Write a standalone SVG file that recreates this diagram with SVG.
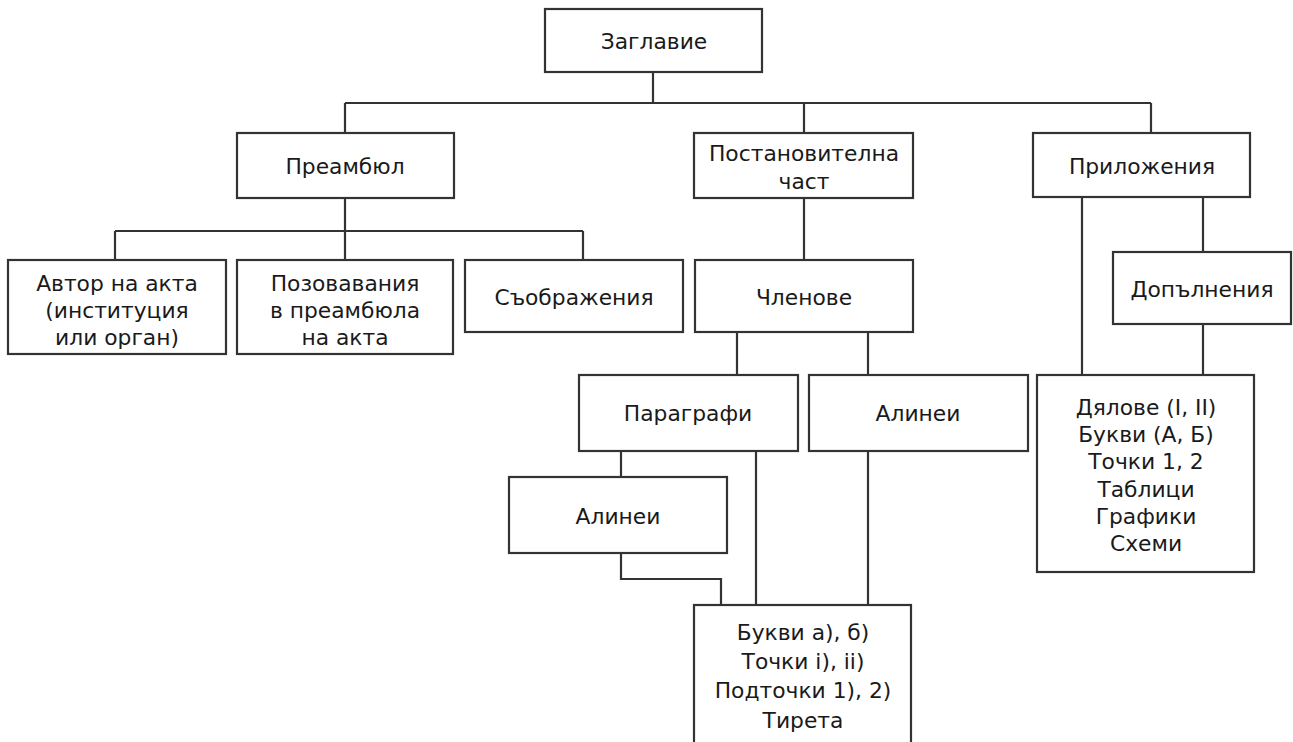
<svg xmlns="http://www.w3.org/2000/svg" width="1293" height="742" viewBox="0 0 1293 742">
<style>
.box{fill:#fff;stroke:#333;stroke-width:2.2}
.ln{fill:none;stroke:#333;stroke-width:2.2}
text{font-family:"DejaVu Sans","Liberation Sans",sans-serif;font-size:21.8px;fill:#1a1a1a;text-anchor:middle;dominant-baseline:central}
</style>
<rect width="1293" height="742" fill="#fff"/>
<g id="connectors">
<path class="ln" d="M653 72V103M345 103H1151M345 103V133M804 103V133M1151 103V133"/>
<path class="ln" d="M345 198V231M115 231H583M115 231V260M345 231V260M583 231V260"/>
<path class="ln" d="M804 198V260"/>
<path class="ln" d="M737 332V375M868 332V375"/>
<path class="ln" d="M1082 197V375M1203 197V252M1203 324V375"/>
<path class="ln" d="M621 451V477M621 553V579H721V605M756 451V605M868 451V605"/>
</g>
<g id="n-zaglavie"><rect class="box" x="545" y="9" width="217" height="63"/><text x="654" y="41">Заглавие</text></g>
<g id="n-preambyul"><rect class="box" x="237" y="133" width="217" height="65"/><text x="345" y="166">Преамбюл</text></g>
<g id="n-postanovitelna"><rect class="box" x="694" y="133" width="219" height="65"/><text x="804" y="153">Постановителна</text><text x="804" y="181">част</text></g>
<g id="n-prilozhenia"><rect class="box" x="1033" y="133" width="217" height="64"/><text x="1142" y="166">Приложения</text></g>
<g id="n-avtor"><rect class="box" x="8" y="260" width="218" height="94"/><text x="117" y="283">Автор на акта</text><text x="117" y="310">(институция</text><text x="117" y="337">или орган)</text></g>
<g id="n-pozovavania"><rect class="box" x="237" y="260" width="216" height="94"/><text x="345" y="283">Позовавания</text><text x="345" y="310">в преамбюла</text><text x="345" y="337">на акта</text></g>
<g id="n-sobrazhenia"><rect class="box" x="465" y="260" width="218" height="72"/><text x="574" y="297">Съображения</text></g>
<g id="n-chlenove"><rect class="box" x="695" y="260" width="218" height="72"/><text x="804" y="297">Членове</text></g>
<g id="n-dopalnenia"><rect class="box" x="1113" y="252" width="178" height="72"/><text x="1202" y="289">Допълнения</text></g>
<g id="n-paragrafi"><rect class="box" x="579" y="375" width="219" height="76"/><text x="688" y="413">Параграфи</text></g>
<g id="n-alinei1"><rect class="box" x="809" y="375" width="219" height="76"/><text x="918" y="413">Алинеи</text></g>
<g id="n-dyalove"><rect class="box" x="1037" y="375" width="217" height="197"/><text x="1146" y="407">Дялове (I, II)</text><text x="1146" y="434">Букви (А, Б)</text><text x="1146" y="461">Точки 1, 2</text><text x="1146" y="489">Таблици</text><text x="1146" y="516">Графики</text><text x="1146" y="543">Схеми</text></g>
<g id="n-alinei2"><rect class="box" x="509" y="477" width="218" height="76"/><text x="618" y="516">Алинеи</text></g>
<g id="n-bukvi"><rect class="box" x="694" y="605" width="217" height="150"/><text x="803" y="632">Букви а), б)</text><text x="803" y="661">Точки i), ii)</text><text x="803" y="690">Подточки 1), 2)</text><text x="803" y="720">Тирета</text></g>
</svg>
